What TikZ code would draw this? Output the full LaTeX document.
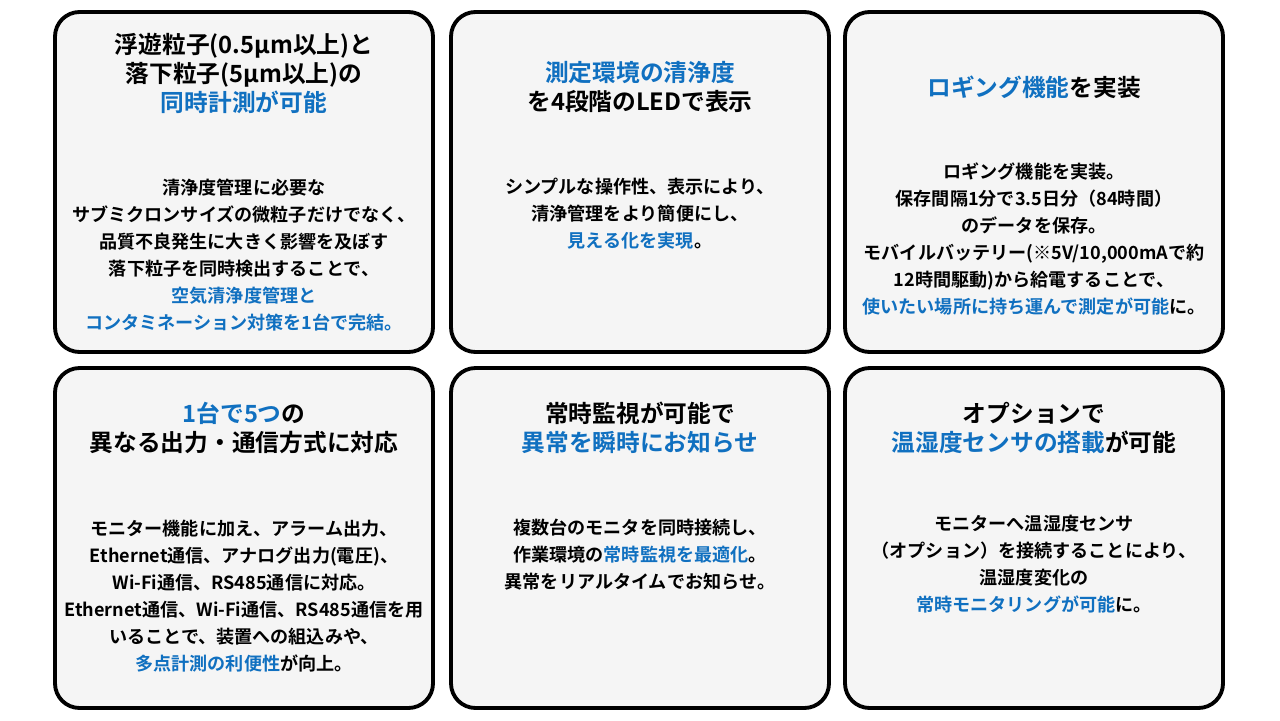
\documentclass[tikz,border=0pt]{standalone}
\usepackage{fontspec}
\setmainfont{Noto Sans CJK JP}[BoldFont={* Bold}]
\usepackage{xcolor}
\definecolor{accent}{HTML}{1070C0}
\definecolor{boxfill}{HTML}{F5F5F5}
\newcommand{\hl}[1]{\textcolor{accent}{#1}}
\tikzset{
  card/.style={draw=black, line width=2.2pt, rounded corners=14pt, fill=boxfill},
  headline/.style={align=center, font=\fontsize{13.5pt}{16.5pt}\selectfont\bfseries},
  bodytext/.style={align=center, font=\fontsize{10.3pt}{15.4pt}\selectfont\bfseries}
}
\begin{document}
\begin{tikzpicture}[x=0.02cm, y=-0.02cm]
  \useasboundingbox (0,0) rectangle (1280,720);
  % cards
  \draw [card] (55,12) rectangle (433,352);
  \draw [card] (451,12) rectangle (829,352);
  \draw [card] (845,12) rectangle (1223,352);
  \draw [card] (55,368) rectangle (433,708);
  \draw [card] (451,368) rectangle (829,708);
  \draw [card] (845,368) rectangle (1223,708);

  % row one
  \node (headA) [headline] at (244,73) {浮遊粒子(0.5µm以上)と\\落下粒子(5µm以上)の\\\hl{同時計測が可能}};
  \node (bodyA) [bodytext] at (244,255) {清浄度管理に必要な\\サブミクロンサイズの微粒子だけでなく、\\品質不良発生に大きく影響を及ぼす\\落下粒子を同時検出することで、\\\hl{空気清浄度管理と}\\\hl{コンタミネーション対策を1台で完結。}};
  \node (headB) [headline] at (640,87) {\hl{測定環境の清浄度}\\を4段階のLEDで表示};
  \node (bodyB) [bodytext] at (640,214) {シンプルな操作性、表示により、\\清浄管理をより簡便にし、\\\hl{見える化を実現}。};
  \node (headC) [headline] at (1034,87) {\hl{ロギング機能}を実装};
  \node (bodyC) [bodytext] at (1034,239) {ロギング機能を実装。\\保存間隔1分で3.5日分（84時間）\\のデータを保存。\\モバイルバッテリー(※5V/10,000mAで約\\12時間駆動)から給電することで、\\\hl{使いたい場所に持ち運んで測定が可能}に。};

  % row two
  \node (headD) [headline] at (244,428) {\hl{1台で5つ}の\\異なる出力・通信方式に対応};
  \node (bodyD) [bodytext] at (244,596) {モニター機能に加え、アラーム出力、\\Ethernet通信、アナログ出力(電圧)、\\Wi-Fi通信、RS485通信に対応。\\Ethernet通信、Wi-Fi通信、RS485通信を用\\いることで、装置への組込みや、\\\hl{多点計測の利便性}が向上。};
  \node (headE) [headline] at (640,428) {常時監視が可能で\\\hl{異常を瞬時にお知らせ}};
  \node (bodyE) [bodytext] at (640,555) {複数台のモニタを同時接続し、\\作業環境の\hl{常時監視を最適化}。\\異常をリアルタイムでお知らせ。};
  \node (headF) [headline] at (1034,428) {オプションで\\\hl{温湿度センサの搭載}が可能};
  \node (bodyF) [bodytext] at (1034,564) {モニターへ温湿度センサ\\（オプション）を接続することにより、\\温湿度変化の\\\hl{常時モニタリングが可能}に。};
\end{tikzpicture}
\end{document}
